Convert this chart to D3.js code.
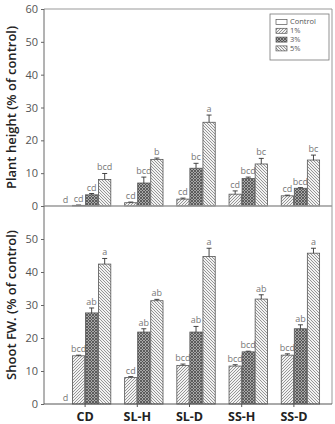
<!DOCTYPE html>
<html><head><meta charset="utf-8">
<script src="https://cdn.jsdelivr.net/npm/d3@7/dist/d3.min.js"></script>
<style>
body{margin:0;background:#fff;}
svg text{font-family:"Open Sans","Noto Sans",sans-serif;}
</style></head>
<body><svg id="c" width="335" height="424"></svg>
<script>
// ---- data ----
const categories = ["CD","SL-H","SL-D","SS-H","SS-D"];
const series = ["Control","1%","3%","5%"];
const yTicksTop = [0,10,20,30,40,50,60];
const yTicksBottom = [0,10,20,30,40,50];

// Plant height (% of control)
const heightCtrl = [0,0,0,0,0];
const height1 = [0.2,1.0,2.1,3.6,3.1];
const height3 = [3.4,7.0,11.5,8.4,5.4];
const height5 = [8.1,14.2,25.5,12.8,14.0];
const heightErrCtrl = [0,0,0,0,0];
const heightErr1 = [0.1,0.2,0.3,1.0,0.2];
const heightErr3 = [0.4,1.8,1.5,0.4,0.2];
const heightErr5 = [1.8,0.4,2.2,1.7,1.5];
const heightLetCtrl = ["d","","","",""];
const heightLet1 = ["cd","cd","cd","cd","cd"];
const heightLet3 = ["cd","bcd","bc","bcd","bcd"];
const heightLet5 = ["bcd","b","a","bc","bc"];

// Shoot FW (% of control)
const fwCtrl = [0,0,0,0,0];
const fw1 = [14.6,8.0,11.7,11.5,14.8];
const fw3 = [27.6,21.8,21.8,15.8,22.8];
const fw5 = [42.4,31.3,44.7,31.8,45.7];
const fwErrCtrl = [0,0,0,0,0];
const fwErr1 = [0.2,0.3,0.4,0.4,0.4];
const fwErr3 = [1.5,1.0,1.7,0.2,1.2];
const fwErr5 = [1.7,0.4,2.5,1.3,1.5];
const fwLetCtrl = ["d","","","",""];
const fwLet1 = ["bcd","cd","bcd","bcd","bcd"];
const fwLet3 = ["ab","ab","ab","bcd","ab"];
const fwLet5 = ["a","ab","a","ab","a"];

// ---- drawing ----
const svg = d3.select("#c");
const defs = svg.append("defs");
function hatch(id, dir, color, bg){
  const p = defs.append("pattern").attr("id",id).attr("patternUnits","userSpaceOnUse")
    .attr("width",3).attr("height",3);
  p.append("rect").attr("width",3).attr("height",3).attr("fill",bg);
  const d = dir>0 ? "M-1,1 l2,-2 M0,3 l3,-3 M2,4 l2,-2" : "M-1,2 l2,2 M0,0 l3,3 M2,-1 l2,2";
  p.append("path").attr("d",d).attr("stroke",color).attr("stroke-width",0.9);
}
hatch("p1", 1, "#8a8a8a", "#f2f2f2");
hatch("p5", -1, "#8a8a8a", "#f2f2f2");
const p3 = defs.append("pattern").attr("id","p3").attr("patternUnits","userSpaceOnUse")
  .attr("width",3).attr("height",3);
p3.append("rect").attr("width",3).attr("height",3).attr("fill","#a8a8a8");
p3.append("path").attr("d","M-1,1 l2,-2 M0,3 l3,-3 M2,4 l2,-2 M-1,2 l2,2 M0,0 l3,3 M2,-1 l2,2")
  .attr("stroke","#4a4a4a").attr("stroke-width",0.8);
const fills = ["#fff","url(#p1)","url(#p3)","url(#p5)"];

const L = 44, R = 332;
const x0 = d3.scaleBand().domain(categories).range([59,320]).padding(0);
const x1 = d3.scaleBand().domain(series).range([0,x0.bandwidth()]).paddingInner(0.06).paddingOuter(0.03);

function panel(yTop, yBot, ticks, vals, errs, lets, title, showX){
  const y = d3.scaleLinear().domain([0,60]).range([yBot,yTop]);
  const g = svg.append("g");
  g.append("line").attr("x1",L).attr("x2",R).attr("y1",yTop).attr("y2",yTop).attr("stroke","#999");
  g.append("line").attr("x1",R).attr("x2",R).attr("y1",yTop).attr("y2",yBot).attr("stroke","#999");
  series.forEach((s,si)=>{
    categories.forEach((c,ci)=>{
      const v = vals[si][ci], e = errs[si][ci];
      const bx = x0(c)+x1(s), bw = x1.bandwidth();
      if (v>0){
        g.append("rect").attr("x",bx).attr("y",y(v)).attr("width",bw).attr("height",y(0)-y(v))
          .attr("fill",fills[si]).attr("stroke","#555").attr("stroke-width",0.8);
        if (e>0){
          const cx = bx+bw/2;
          g.append("line").attr("x1",cx).attr("x2",cx).attr("y1",y(v)).attr("y2",y(v+e)).attr("stroke","#333").attr("stroke-width",0.9);
          g.append("line").attr("x1",cx-2.5).attr("x2",cx+2.5).attr("y1",y(v+e)).attr("y2",y(v+e)).attr("stroke","#333").attr("stroke-width",0.9);
        }
      }
      const t = lets[si][ci];
      if (t){
        g.append("text").attr("x",bx+bw/2).attr("y",y(v+e)-3).attr("text-anchor","middle")
          .attr("font-size",9).attr("fill","#777").text(t);
      }
    });
  });
  const ya = g.append("g").attr("transform",`translate(${L},0)`)
    .call(d3.axisLeft(y).tickValues(ticks).tickSize(3).tickPadding(3).tickFormat(d3.format("d")));
  ya.select(".domain").attr("stroke","#666").attr("d",`M0,${yBot}V${yTop}`);
  ya.selectAll(".tick line").attr("stroke","#666");
  ya.selectAll("text").attr("font-size",11).attr("fill","#555").attr("font-family","'Open Sans',sans-serif");
  const xa = g.append("g").attr("transform",`translate(0,${yBot})`)
    .call(d3.axisBottom(x0).tickSize(showX?3:0).tickPadding(5));
  xa.select(".domain").attr("d",`M${L},0H${R}`).attr("stroke", showX?"#555":"#999");
  xa.selectAll(".tick line").attr("stroke","#555");
  if (showX){
    xa.selectAll("text").attr("font-size",12.5).attr("font-weight","bold").attr("fill","#222")
      .attr("font-family","'Open Sans',sans-serif");
  } else {
    xa.selectAll("text").remove();
  }
  svg.append("text").attr("transform",`translate(16,${(yTop+yBot)/2}) rotate(-90)`)
    .attr("text-anchor","middle").attr("font-size",13).attr("font-weight",600).attr("fill","#222")
    .text(title);
  return y;
}

panel(9, 206, yTicksTop,
  [heightCtrl,height1,height3,height5],
  [heightErrCtrl,heightErr1,heightErr3,heightErr5],
  [heightLetCtrl,heightLet1,heightLet3,heightLet5],
  "Plant height (% of control)", false);
panel(206, 404, yTicksBottom,
  [fwCtrl,fw1,fw3,fw5],
  [fwErrCtrl,fwErr1,fwErr3,fwErr5],
  [fwLetCtrl,fwLet1,fwLet3,fwLet5],
  "Shoot FW. (% of control)", true);

// legend
const lg = svg.append("g");
lg.append("rect").attr("x",270).attr("y",14).attr("width",59).attr("height",46)
  .attr("fill","#fff").attr("stroke","#777").attr("stroke-width",0.8);
series.forEach((s,i)=>{
  const yy = 22 + i*8.8;
  lg.append("rect").attr("x",276).attr("y",yy-2.5).attr("width",11).attr("height",5)
    .attr("fill",fills[i]).attr("stroke","#555").attr("stroke-width",0.7);
  lg.append("text").attr("x",290).attr("y",yy).attr("dy","0.33em").attr("font-size",7.5).attr("fill","#555").text(s);
});
</script></body></html>
